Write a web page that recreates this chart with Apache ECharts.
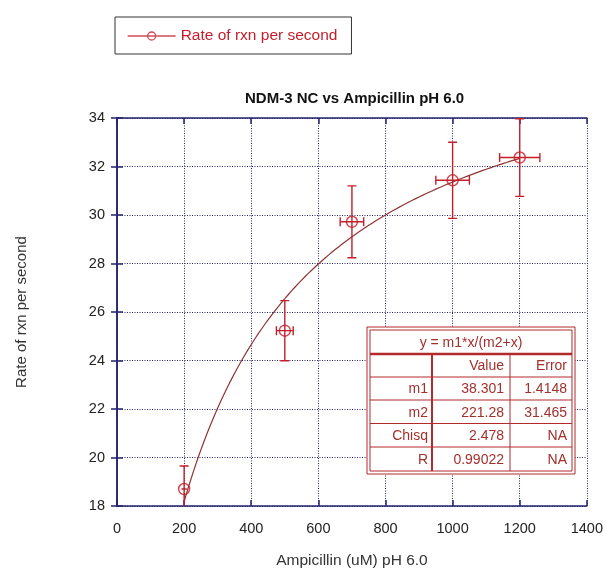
<!DOCTYPE html>
<html>
<head>
<meta charset="utf-8">
<script src="https://cdn.jsdelivr.net/npm/echarts@6/dist/echarts.min.js"></script>
<style>
  html, body { margin: 0; padding: 0; background: #fff; }
  #chart { width: 606px; height: 574px; }
</style>
</head>
<body>
<div id="chart"></div>
<script>
// Measured rates with their uncertainties
const ampicillin = [200, 500, 700, 1000, 1200];
const rate = [18.70, 25.23, 29.72, 31.43, 32.37];
const rateErr = [0.95, 1.24, 1.48, 1.57, 1.60];
const ampicillinErr = [8, 25, 35, 50, 60];

// Fit parameters for y = m1*x/(m2+x)
const m1 = 38.301;
const m2 = 221.28;

// Fit summary table
const tableHeader = ['', 'Value', 'Error'];
const tableRows = [
  ['m1', '38.301', '1.4148'],
  ['m2', '221.28', '31.465'],
  ['Chisq', '2.478', 'NA'],
  ['R', '0.99022', 'NA']
];

const xTicks = { min: 0, max: 1400, interval: 200 };
const yTicks = { min: 18, max: 34, interval: 2 };

const NAVY = '#23236e';
const RED = '#c41e2a';
const CURVE = '#8e3434';
const TABLE_RED = '#b22a2a';
const TABLE_TEXT = '#a3302c';
const FONT = 'Liberation Sans, Arial, sans-serif';

// Fitted curve over the measured range, from the fit parameters above
const fitCurve = [];
for (let x = ampicillin[0]; x <= ampicillin[ampicillin.length - 1]; x += 10) {
  fitCurve.push([x, m1 * x / (m2 + x)]);
}

const points = ampicillin.map((x, i) => [x, rate[i]]);
const errData = ampicillin.map((x, i) => [x, rate[i], ampicillinErr[i], rateErr[i]]);

const chart = echarts.init(document.getElementById('chart'), null, { renderer: 'canvas' });

// Table geometry
const tb = { x0: 370, y0: 330, x1: 572, y1: 471, head: 354, rows: [377, 400, 423.5, 447], c1: 432, c2: 510 };
const rowTops = [tb.head, ...tb.rows];
const rowBottoms = [...tb.rows, tb.y1];
const colRight = [428, 504, 567];

const tableGraphics = [
  { type: 'rect', shape: { x: 367, y: 327, width: 208, height: 147 }, style: { fill: '#fff', stroke: TABLE_RED, lineWidth: 1 }, z: 100 },
  { type: 'rect', shape: { x: tb.x0, y: tb.y0, width: tb.x1 - tb.x0, height: tb.y1 - tb.y0 }, style: { fill: '#fff', stroke: TABLE_RED, lineWidth: 1 }, z: 101 },
  { type: 'line', shape: { x1: tb.x0, y1: tb.head, x2: tb.x1, y2: tb.head }, style: { stroke: TABLE_RED, lineWidth: 2.5 }, z: 102 },
  { type: 'line', shape: { x1: tb.c1, y1: tb.head, x2: tb.c1, y2: tb.y1 }, style: { stroke: TABLE_RED, lineWidth: 2 }, z: 102 },
  { type: 'line', shape: { x1: tb.c2, y1: tb.head, x2: tb.c2, y2: tb.y1 }, style: { stroke: TABLE_RED, lineWidth: 1 }, z: 102 },
  { type: 'text', x: (tb.x0 + tb.x1) / 2, y: (tb.y0 + tb.head) / 2 + 1, style: { text: 'y = m1*x/(m2+x)', fill: TABLE_TEXT, font: '14px ' + FONT, textAlign: 'center', textVerticalAlign: 'middle' }, z: 103 }
];
tb.rows.forEach(y => {
  tableGraphics.push({ type: 'line', shape: { x1: tb.x0, y1: y, x2: tb.x1, y2: y }, style: { stroke: TABLE_RED, lineWidth: 1 }, z: 102 });
});
[tableHeader, ...tableRows].forEach((row, r) => {
  const cy = (rowTops[r] + rowBottoms[r]) / 2 + 1;
  row.forEach((cell, c) => {
    if (!cell) return;
    tableGraphics.push({ type: 'text', x: colRight[c], y: cy, style: { text: cell, fill: TABLE_TEXT, font: '14px ' + FONT, textAlign: 'right', textVerticalAlign: 'middle' }, z: 103 });
  });
});

const gridLine = { show: true, lineStyle: { color: NAVY, type: [1, 1.5], width: 1 } };
const axisLine = { show: true, lineStyle: { color: NAVY, width: 1.5 } };
const inTick = { show: true, inside: true, length: 6, lineStyle: { color: NAVY, width: 1.5 } };

chart.setOption({
  backgroundColor: '#fff',
  animation: false,
  title: {
    text: 'NDM-3 NC vs Ampicillin pH 6.0',
    left: 240, top: 86,
    textStyle: { fontFamily: FONT, fontSize: 15, fontWeight: 'bold', color: '#111' }
  },
  legend: {
    data: ['Rate of rxn per second'],
    left: 115, top: 17,
    padding: [11, 14, 10, 12],
    borderColor: '#333', borderWidth: 1,
    icon: 'path://M0,4L48,4M20,4A4,4,0,1,1,28,4A4,4,0,1,1,20,4',
    itemWidth: 48, itemHeight: 8,
    itemStyle: { color: 'transparent', borderColor: RED, borderWidth: 1.3 },
    textStyle: { fontFamily: FONT, fontSize: 15.5, color: RED }
  },
  grid: { left: 117, right: 19, top: 118, bottom: 66, containLabel: false },
  xAxis: [
    {
      type: 'value', min: xTicks.min, max: xTicks.max, interval: xTicks.interval,
      name: 'Ampicillin (uM) pH 6.0', nameLocation: 'middle', nameGap: 47,
      nameTextStyle: { fontFamily: FONT, fontSize: 15.5, color: '#333' },
      axisLine, axisTick: inTick, splitLine: gridLine,
      axisLabel: { fontFamily: FONT, fontSize: 14.5, color: '#222', margin: 15, formatter: v => String(v) }
    },
    {
      type: 'value', position: 'top', min: xTicks.min, max: xTicks.max, interval: xTicks.interval,
      axisLine, axisTick: inTick, axisLabel: { show: false }, splitLine: { show: false }
    }
  ],
  yAxis: [
    {
      type: 'value', min: yTicks.min, max: yTicks.max, interval: yTicks.interval,
      name: 'Rate of rxn per second', nameLocation: 'middle', nameGap: 88,
      nameTextStyle: { fontFamily: FONT, fontSize: 15, color: '#333' },
      axisLine, axisTick: inTick, splitLine: gridLine,
      axisLabel: { fontFamily: FONT, fontSize: 14.5, color: '#222', margin: 12 }
    },
    {
      type: 'value', position: 'right', min: yTicks.min, max: yTicks.max, interval: yTicks.interval,
      axisLine, axisTick: inTick, axisLabel: { show: false }, splitLine: { show: false }
    }
  ],
  series: [
    {
      name: 'fit',
      type: 'line',
      data: fitCurve,
      showSymbol: false,
      smooth: false,
      lineStyle: { color: CURVE, width: 1.2 },
      z: 3,
      silent: true
    },
    {
      name: 'error bars',
      type: 'custom',
      data: errData,
      clip: true,
      z: 4,
      renderItem: function (params, api) {
        const x = api.value(0), y = api.value(1), ex = api.value(2), ey = api.value(3);
        const c = api.coord([x, y]);
        const top = api.coord([x, y + ey]);
        const bot = api.coord([x, y - ey]);
        const lft = api.coord([x - ex, y]);
        const rgt = api.coord([x + ex, y]);
        const cap = 4.5;
        const style = { stroke: RED, lineWidth: 1.4 };
        const children = [
          { type: 'line', shape: { x1: c[0], y1: top[1], x2: c[0], y2: bot[1] }, style },
          { type: 'line', shape: { x1: c[0] - cap, y1: top[1], x2: c[0] + cap, y2: top[1] }, style },
          { type: 'line', shape: { x1: c[0] - cap, y1: bot[1], x2: c[0] + cap, y2: bot[1] }, style },
          { type: 'line', shape: { x1: lft[0], y1: c[1], x2: rgt[0], y2: c[1] }, style }
        ];
        if (rgt[0] - c[0] > 7) {
          children.push(
            { type: 'line', shape: { x1: lft[0], y1: c[1] - cap, x2: lft[0], y2: c[1] + cap }, style },
            { type: 'line', shape: { x1: rgt[0], y1: c[1] - cap, x2: rgt[0], y2: c[1] + cap }, style }
          );
        }
        const r = params.coordSys;
        return {
          type: 'group',
          children,
          clipPath: { type: 'rect', shape: { x: r.x, y: r.y, width: r.width, height: r.height } }
        };
      }
    },
    {
      name: 'Rate of rxn per second',
      type: 'scatter',
      data: points,
      symbol: 'circle',
      symbolSize: 11,
      itemStyle: { color: 'transparent', borderColor: RED, borderWidth: 1.5 },
      z: 5
    }
  ],
  graphic: tableGraphics
});
</script>
</body>
</html>
